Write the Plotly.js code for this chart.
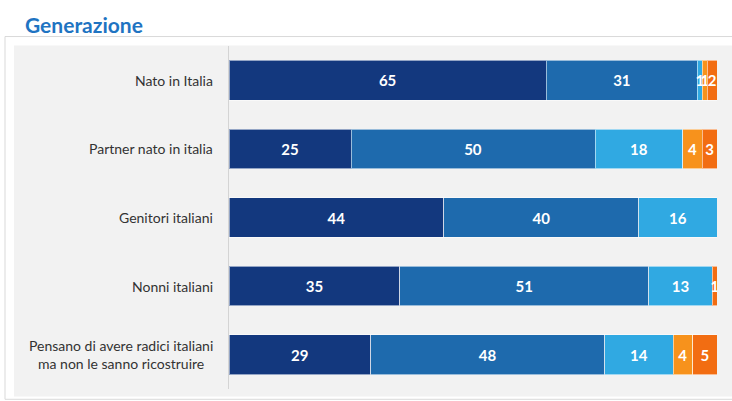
<!DOCTYPE html>
<html>
<head>
<meta charset="utf-8">
<script src="https://cdn.plot.ly/plotly-3.0.1.min.js"></script>
<style>html,body{margin:0;padding:0;background:#fff;}#chart{width:732px;height:401px;}</style>
</head>
<body>
<div id="chart"></div>
<script>
var categories = ["Nato in Italia", "Partner nato in italia", "Genitori italiani", "Nonni italiani", "Pensano di avere radici italiani<br>ma non le sanno ricostruire"];
var seg1 = [65, 25, 44, 35, 29];
var seg2 = [31, 50, 40, 51, 48];
var seg3 = [1, 18, 16, 13, 14];
var seg4 = [1, 4, 0, 0, 4];
var seg5 = [2, 3, 0, 1, 5];
var seriesNames = ["S1", "S2", "S3", "S4", "S5"];
var colors = ["#13387e", "#1e6aad", "#30a9e2", "#f7921c", "#f26d12"];

var FONT = "Lato, 'Open Sans', sans-serif";
var all = [seg1, seg2, seg3, seg4, seg5];
var traces = all.map(function (vals, i) {
  return {
    type: "bar",
    orientation: "h",
    name: seriesNames[i],
    y: categories,
    x: vals,
    text: vals.map(function (v) { return v === 0 ? "" : String(v); }),
    textposition: "inside",
    insidetextanchor: "middle",
    constraintext: "none",
    textfont: { family: FONT, size: 15, color: "#ffffff", weight: "bold" },
    marker: { color: colors[i], line: { color: "rgba(255,255,255,0.55)", width: 1 } },
    hoverinfo: "none",
    cliponaxis: true
  };
});

var catAnnotations = categories.map(function (c) {
  return { text: c, xref: "paper", yref: "y", x: -0.0287, y: c, xanchor: "right", yanchor: "middle",
    align: "center", showarrow: false, font: { family: FONT, size: 14, color: "#333333" } };
});

var layout = {
  width: 732,
  height: 401,
  margin: { l: 229, r: 15, t: 45.5, b: 11.5 },
  paper_bgcolor: "#ffffff",
  plot_bgcolor: "rgba(0,0,0,0)",
  barmode: "stack",
  bargap: 0.42,
  showlegend: false,
  font: { family: FONT, color: "#333333" },
  xaxis: { range: [0, 100], visible: false, fixedrange: true },
  yaxis: {
    autorange: "reversed",
    showline: true,
    linecolor: "#d4d4d4",
    linewidth: 1,
    showgrid: false,
    zeroline: false,
    ticks: "",
    showticklabels: false
  },
  shapes: [
    { type: "rect", xref: "paper", yref: "paper", x0: -0.459, x1: 1.04, y0: -0.03, y1: 1.0276,
      fillcolor: "#ffffff", line: { color: "#d9d9d9", width: 1 }, layer: "below" },
    { type: "rect", xref: "paper", yref: "paper", x0: -0.4406, x1: 1.0307, y0: -0.0218, y1: 1.0015,
      fillcolor: "#f2f2f2", line: { width: 0 }, layer: "below" }
  ],
  annotations: [
    { text: "<b>Generazione</b>", xref: "paper", yref: "paper", x: -0.422, y: 1.0625,
      xanchor: "left", yanchor: "middle", showarrow: false,
      font: { family: FONT, size: 21, color: "#1f74c2" } }
  ].concat(catAnnotations)
};

Plotly.newPlot("chart", traces, layout, { displayModeBar: false, staticPlot: true });
</script>
</body>
</html>
